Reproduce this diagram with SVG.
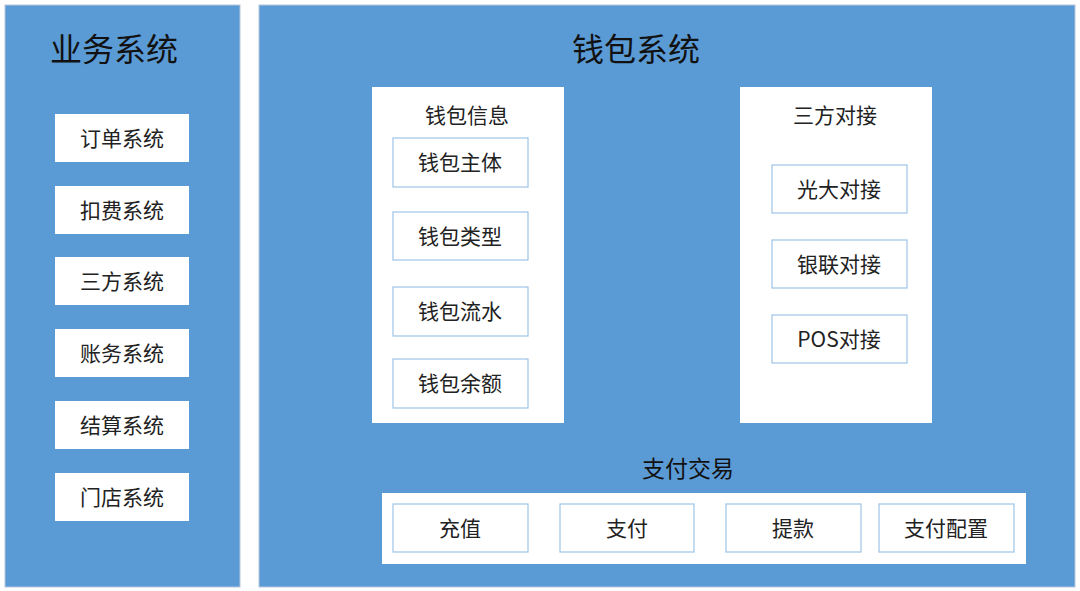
<svg xmlns="http://www.w3.org/2000/svg" width="1080" height="591" viewBox="0 0 1080 591">
<style>
.panel{fill:#5B9BD5;stroke:#B4C7DC;stroke-width:1}
.wbox{fill:#FFFFFF}
.ibox{fill:#FFFFFF;stroke:#9DC3E6;stroke-width:1.2}
text{font-family:"Noto Sans CJK SC","Noto Sans",sans-serif;text-anchor:middle;dominant-baseline:central;fill:#222222}
.big{font-size:32px;fill:#111111}
.lg{font-size:23px;fill:#111111}
.sm{font-size:21px}
</style>
<rect width="1080" height="591" fill="#FFFFFF"/>
<g id="biz-system">
<rect class="panel" x="5" y="5" width="235" height="582"/>
<text class="big" x="114" y="47">业务系统</text>
</g>
<g id="order"><rect class="wbox" x="55" y="114" width="134" height="48"/><text class="sm" x="122" y="137">订单系统</text></g>
<g id="deduct"><rect class="wbox" x="55" y="186" width="134" height="48"/><text class="sm" x="122" y="209">扣费系统</text></g>
<g id="third"><rect class="wbox" x="55" y="257" width="134" height="48"/><text class="sm" x="122" y="280">三方系统</text></g>
<g id="account"><rect class="wbox" x="55" y="329" width="134" height="48"/><text class="sm" x="122" y="352">账务系统</text></g>
<g id="settle"><rect class="wbox" x="55" y="401" width="134" height="48"/><text class="sm" x="122" y="424">结算系统</text></g>
<g id="store"><rect class="wbox" x="55" y="473" width="134" height="48"/><text class="sm" x="122" y="496">门店系统</text></g>

<g id="wallet-system">
<rect class="panel" x="259" y="5" width="816" height="582"/>
<text class="big" x="636" y="47">钱包系统</text>
</g>

<g id="wallet-info">
<rect class="wbox" x="372" y="87" width="192" height="336"/>
<text class="sm" x="467" y="114">钱包信息</text>
</g>
<g id="w-subject"><rect class="ibox" x="393" y="138" width="135" height="49"/><text class="sm" x="460" y="161">钱包主体</text></g>
<g id="w-type"><rect class="ibox" x="393" y="212" width="135" height="48"/><text class="sm" x="460" y="235">钱包类型</text></g>
<g id="w-flow"><rect class="ibox" x="393" y="287" width="135" height="49"/><text class="sm" x="460" y="310">钱包流水</text></g>
<g id="w-balance"><rect class="ibox" x="393" y="359" width="135" height="49"/><text class="sm" x="460" y="382">钱包余额</text></g>

<g id="third-party">
<rect class="wbox" x="740" y="87" width="192" height="336"/>
<text class="sm" x="835" y="114">三方对接</text>
</g>
<g id="guangda"><rect class="ibox" x="772" y="165" width="135" height="48"/><text class="sm" x="839" y="188">光大对接</text></g>
<g id="unionpay"><rect class="ibox" x="772" y="240" width="135" height="48"/><text class="sm" x="839" y="263">银联对接</text></g>
<g id="pos"><rect class="ibox" x="772" y="315" width="135" height="48"/><text class="sm" x="839" y="338">POS对接</text></g>

<g id="pay-trade">
<text class="lg" x="688" y="467">支付交易</text>
<rect class="wbox" x="382" y="493" width="644" height="71"/>
</g>
<g id="recharge"><rect class="ibox" x="393" y="504" width="135" height="48"/><text class="sm" x="460" y="527">充值</text></g>
<g id="pay"><rect class="ibox" x="560" y="504" width="134" height="48"/><text class="sm" x="627" y="527">支付</text></g>
<g id="withdraw"><rect class="ibox" x="726" y="504" width="135" height="48"/><text class="sm" x="793" y="527">提款</text></g>
<g id="pay-config"><rect class="ibox" x="879" y="504" width="135" height="48"/><text class="sm" x="946" y="527">支付配置</text></g>
<g id="connectors"></g>
</svg>
